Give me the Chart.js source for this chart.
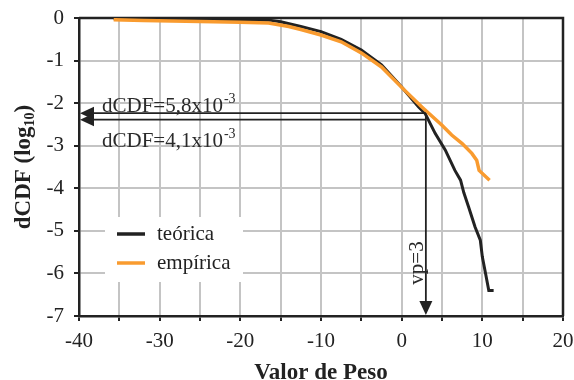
<!DOCTYPE html>
<html>
<head>
<meta charset="utf-8">
<script src="https://cdn.jsdelivr.net/npm/chart.js@4.4.0/dist/chart.umd.min.js"></script>
<style>
  html, body { margin: 0; padding: 0; background: #fff; }
  #grafico { display: block; }
</style>
</head>
<body>
<canvas id="grafico" width="574" height="380"></canvas>
<script>
// curva teórica (log10 da dCDF) em função do valor de peso
var pesoTeorica = [-35.7, -25, -16.4, -15, -12.5, -10, -7.5, -5, -2.5, 0, 2.1, 2.9, 4.15, 5.4, 6.6, 7.3, 7.7, 8.3, 9.1, 9.75, 10, 10.4, 10.8, 11.4];
var dcdfTeorica = [-0.02, -0.03, -0.05, -0.09, -0.2, -0.32, -0.5, -0.75, -1.1, -1.62, -2.09, -2.24, -2.71, -3.1, -3.58, -3.81, -4.1, -4.44, -4.91, -5.22, -5.61, -6.0, -6.4, -6.4];

// curva empírica
var pesoEmpirica = [-35.7, -32, -25, -20, -16.5, -14, -12.5, -10, -7.5, -5, -2.5, 0, 2.5, 5, 6.2, 7.5, 8.7, 9.3, 9.6, 10.9];
var dcdfEmpirica = [-0.04, -0.06, -0.08, -0.1, -0.12, -0.2, -0.27, -0.4, -0.56, -0.82, -1.15, -1.63, -2.09, -2.52, -2.75, -2.95, -3.18, -3.34, -3.58, -3.81];

var limitesPeso = [-40, 20];
var limitesDcdf = [-7, 0];

// valor de peso vp e as duas dCDF marcadas com setas
var vp = 3;
var dcdfMarcas = [5.8e-3, 4.1e-3];
var rotulosMarcas = ['dCDF=5,8x10', 'dCDF=4,1x10'];
var expoenteMarcas = '-3';

var serif = '"Liberation Serif", "Times New Roman", serif';
var escuro = '#222222';
var laranja = '#f99b2f';
var cinza = '#c4c4c4';

function pontos(xs, ys) {
    return xs.map(function (x, i) { return { x: x, y: ys[i] }; });
}

function textoExpoente(ctx, base, exp, px, py, size) {
    ctx.font = size + 'px ' + serif;
    ctx.textAlign = 'left';
    ctx.textBaseline = 'alphabetic';
    ctx.fillText(base, px, py);
    var w = ctx.measureText(base).width;
    ctx.font = Math.round(size * 0.66) + 'px ' + serif;
    ctx.fillText(exp, px + w + 1, py - size * 0.42);
}

function ponta(ctx, px, py, dx, dy) {
    // triângulo cheio com vértice em (px, py), apontando na direção (dx, dy)
    var comp = 14, meia = 6.5;
    ctx.beginPath();
    ctx.moveTo(px, py);
    ctx.lineTo(px - dx * comp + dy * meia, py - dy * comp + dx * meia);
    ctx.lineTo(px - dx * comp - dy * meia, py - dy * comp - dx * meia);
    ctx.closePath();
    ctx.fill();
}

var moldura = {
    id: 'moldura',
    beforeDatasetsDraw: function (chart) {
        var a = chart.chartArea, ctx = chart.ctx;
        ctx.save();
        ctx.strokeStyle = escuro;
        ctx.lineWidth = 2.5;
        ctx.beginPath();
        ctx.moveTo(a.left, a.top);
        ctx.lineTo(a.right, a.top);
        ctx.lineTo(a.right, a.bottom);
        ctx.stroke();
        ctx.restore();
    }
};

var setas = {
    id: 'setas',
    afterDatasetsDraw: function (chart) {
        var sx = chart.scales.x, sy = chart.scales.y, ctx = chart.ctx;
        var x0 = sx.getPixelForValue(limitesPeso[0]);
        var xv = sx.getPixelForValue(vp);
        var yBase = sy.getPixelForValue(limitesDcdf[0]);
        var yMarcas = dcdfMarcas.map(function (d) { return sy.getPixelForValue(Math.log10(d)); });

        ctx.save();
        ctx.strokeStyle = escuro;
        ctx.fillStyle = escuro;
        ctx.lineWidth = 1.8;

        yMarcas.forEach(function (yp) {
            ctx.beginPath();
            ctx.moveTo(x0 + 10, yp);
            ctx.lineTo(xv, yp);
            ctx.stroke();
            ponta(ctx, x0 + 1, yp, -1, 0);
        });

        ctx.beginPath();
        ctx.moveTo(xv, yMarcas[0]);
        ctx.lineTo(xv, yBase - 10);
        ctx.stroke();
        ponta(ctx, xv, yBase - 1, 0, 1);

        ctx.fillStyle = '#2a2a2a';
        textoExpoente(ctx, rotulosMarcas[0], expoenteMarcas, x0 + 23, yMarcas[0] - 1, 21);
        textoExpoente(ctx, rotulosMarcas[1], expoenteMarcas, x0 + 23, yMarcas[1] + 27, 21);

        // rótulo vertical vp=3
        ctx.save();
        ctx.translate(xv - 3, yBase - 53);
        ctx.rotate(-Math.PI / 2);
        ctx.font = '21px ' + serif;
        ctx.textAlign = 'center';
        ctx.textBaseline = 'alphabetic';
        ctx.fillText('vp=' + vp, 0, 0);
        ctx.restore();

        ctx.restore();
    }
};

var legendaETitulos = {
    id: 'legendaETitulos',
    afterDraw: function (chart) {
        var a = chart.chartArea, ctx = chart.ctx;
        ctx.save();

        // legenda
        ctx.fillStyle = '#ffffff';
        ctx.fillRect(105, 217, 138, 65);
        chart.data.datasets.forEach(function (ds, i) {
            var yy = 234 + i * 29;
            ctx.strokeStyle = ds.borderColor;
            ctx.lineWidth = 3.5;
            ctx.beginPath();
            ctx.moveTo(117, yy);
            ctx.lineTo(145, yy);
            ctx.stroke();
            ctx.fillStyle = escuro;
            ctx.font = '21px ' + serif;
            ctx.textAlign = 'left';
            ctx.textBaseline = 'middle';
            ctx.fillText(ds.label, 157, yy);
        });

        // título do eixo x
        ctx.fillStyle = escuro;
        ctx.font = 'bold 23px ' + serif;
        ctx.textAlign = 'center';
        ctx.textBaseline = 'alphabetic';
        ctx.fillText('Valor de Peso', (a.left + a.right) / 2, 379);

        // título do eixo y com subscrito
        ctx.translate(30, (a.top + a.bottom) / 2);
        ctx.rotate(-Math.PI / 2);
        ctx.textAlign = 'left';
        var parte1 = 'dCDF (log', sub = '10', parte2 = ')';
        ctx.font = 'bold 23px ' + serif;
        var w1 = ctx.measureText(parte1).width, w3 = ctx.measureText(parte2).width;
        ctx.font = 'bold 14px ' + serif;
        var w2 = ctx.measureText(sub).width;
        var x = -(w1 + w2 + w3) / 2;
        ctx.font = 'bold 23px ' + serif;
        ctx.fillText(parte1, x, 0);
        ctx.font = 'bold 14px ' + serif;
        ctx.fillText(sub, x + w1, 4);
        ctx.font = 'bold 23px ' + serif;
        ctx.fillText(parte2, x + w1 + w2, 0);

        ctx.restore();
    }
};

var data = {
    datasets: [{
        label: 'teórica',
        data: pontos(pesoTeorica, dcdfTeorica),
        borderColor: escuro,
        borderWidth: 3,
        showLine: true,
        order: 1
    }, {
        label: 'empírica',
        data: pontos(pesoEmpirica, dcdfEmpirica),
        borderColor: laranja,
        borderWidth: 3.5,
        showLine: true,
        order: 0
    }]
};

var options = {
    responsive: false,
    animation: false,
    devicePixelRatio: 1,
    layout: { padding: { top: 18, right: 11, left: 0, bottom: 0 } },
    elements: {
        point: { radius: 0 },
        line: { tension: 0, fill: false }
    },
    plugins: {
        legend: { display: false },
        tooltip: { enabled: false }
    },
    scales: {
        x: {
            type: 'linear',
            min: limitesPeso[0],
            max: limitesPeso[1],
            grid: { color: cinza, lineWidth: 2, tickLength: 5, tickColor: escuro, tickWidth: 2 },
            border: { color: escuro, width: 2.5 },
            ticks: {
                stepSize: 5,
                autoSkip: false,
                maxRotation: 0,
                padding: 8,
                color: escuro,
                font: { family: serif, size: 21 },
                callback: function (v) { return v % 10 === 0 ? String(v) : ''; }
            },
            afterFit: function (s) {
                s.height = 64;
                s.paddingLeft = 0;
                s.paddingRight = 0;
            }
        },
        y: {
            min: limitesDcdf[0],
            max: limitesDcdf[1],
            grid: { color: cinza, lineWidth: 2, tickLength: 5, tickColor: escuro, tickWidth: 2 },
            border: { color: escuro, width: 2.5 },
            ticks: {
                stepSize: 1,
                padding: 10,
                color: escuro,
                font: { family: serif, size: 21 }
            },
            afterFit: function (s) {
                s.width = 79;
                s.paddingTop = 0;
                s.paddingBottom = 0;
            }
        }
    }
};

var ctx = document.querySelector('#grafico').getContext('2d');
var grafico = new Chart(ctx, {
    type: 'scatter',
    data: data,
    options: options,
    plugins: [moldura, setas, legendaETitulos]
});
</script>
</body>
</html>
